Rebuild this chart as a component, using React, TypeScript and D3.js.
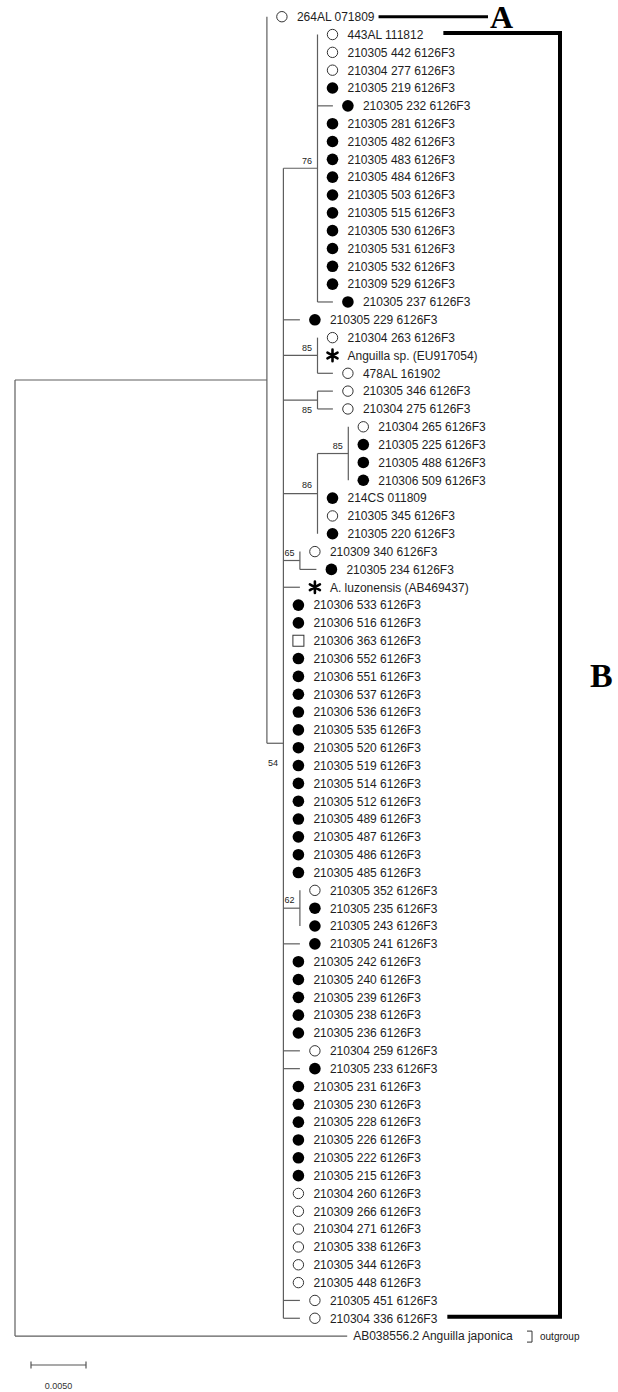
import { useEffect, useRef } from "react"
import * as d3 from "d3"

// leaf labels, top to bottom
const leafLabels = [
  "264AL 071809",
  "443AL 111812", "210305 442 6126F3", "210304 277 6126F3", "210305 219 6126F3",
  "210305 232 6126F3", "210305 281 6126F3", "210305 482 6126F3", "210305 483 6126F3",
  "210305 484 6126F3", "210305 503 6126F3", "210305 515 6126F3", "210305 530 6126F3",
  "210305 531 6126F3", "210305 532 6126F3", "210309 529 6126F3", "210305 237 6126F3",
  "210305 229 6126F3",
  "210304 263 6126F3", "Anguilla sp. (EU917054)", "478AL 161902",
  "210305 346 6126F3", "210304 275 6126F3",
  "210304 265 6126F3", "210305 225 6126F3", "210305 488 6126F3", "210306 509 6126F3",
  "214CS 011809", "210305 345 6126F3", "210305 220 6126F3",
  "210309 340 6126F3", "210305 234 6126F3",
  "A. luzonensis (AB469437)",
  "210306 533 6126F3", "210306 516 6126F3", "210306 363 6126F3", "210306 552 6126F3",
  "210306 551 6126F3", "210306 537 6126F3", "210306 536 6126F3", "210305 535 6126F3",
  "210305 520 6126F3", "210305 519 6126F3", "210305 514 6126F3", "210305 512 6126F3",
  "210305 489 6126F3", "210305 487 6126F3", "210305 486 6126F3", "210305 485 6126F3",
  "210305 352 6126F3", "210305 235 6126F3", "210305 243 6126F3",
  "210305 241 6126F3",
  "210305 242 6126F3", "210305 240 6126F3", "210305 239 6126F3", "210305 238 6126F3",
  "210305 236 6126F3",
  "210304 259 6126F3", "210305 233 6126F3",
  "210305 231 6126F3", "210305 230 6126F3", "210305 228 6126F3", "210305 226 6126F3",
  "210305 222 6126F3", "210305 215 6126F3",
  "210304 260 6126F3", "210309 266 6126F3", "210304 271 6126F3", "210305 338 6126F3",
  "210305 344 6126F3", "210305 448 6126F3", "210305 451 6126F3", "210304 336 6126F3",
  "AB038556.2 Anguilla japonica",
]

// o = open circle, f = filled circle, s = open square, a = asterisk, n = none
const leafMarkers = (
  "oooo" + "ff" + "ffffffffff" + "f" + "f" +
  "oao" + "oo" + "offf" + "fof" + "of" + "a" +
  "ffs" + "fffffffffffff" + "off" + "f" + "fffff" + "of" +
  "ffffff" + "oooooooo" + "n"
).split("")

// topology (leaf = index into leafLabels, internal label = bootstrap)
const clade76 = "(1:0,2:0,3:0,4:0,5:0.0014,6:0,7:0,8:0,9:0,10:0,11:0,12:0,13:0,14:0,15:0,16:0.0014)76:0.0031"
const clade85a = "(18:0,19:0,20:0.0014)85:0.0031"
const clade85b = "(21:0.0014,22:0.0014)85:0.0031"
const clade86 = "((23:0,24:0,25:0,26:0)85:0.0028,27:0,28:0,29:0)86:0.0031"
const clade65 = "(30:0,31:0.0015)65:0.0015"
const clade62 = "(49:0,50:0,51:0)62:0.0015"
const cladeB =
  `(${clade76},17:0.0015,${clade85a},${clade85b},${clade86},${clade65},32:0.0015,` +
  "33:0,34:0,35:0,36:0,37:0,38:0,39:0,40:0,41:0,42:0,43:0,44:0,45:0,46:0,47:0,48:0," +
  `${clade62},52:0.0015,53:0,54:0,55:0,56:0,57:0,58:0.0015,59:0.0015,` +
  "60:0,61:0,62:0,63:0,64:0,65:0,66:0,67:0,68:0,69:0,70:0,71:0,72:0.0015,73:0.0015)54:0.0015"
const treeNewick = `((0:0,${cladeB}):0.0229,74:0.0302);`

const scaleBarValue = 0.005

interface TreeNode {
  name: string
  length: number
  children: TreeNode[]
}

function parseNewick(src: string): TreeNode {
  const s = src.replace(/\s/g, "")
  let i = 0
  const readToken = () => {
    const start = i
    while (i < s.length && !",():;".includes(s[i])) i++
    return s.slice(start, i)
  }
  const readNode = (): TreeNode => {
    const n: TreeNode = { name: "", length: 0, children: [] }
    if (s[i] === "(") {
      i++
      n.children.push(readNode())
      while (s[i] === ",") {
        i++
        n.children.push(readNode())
      }
      i++
    }
    n.name = readToken()
    if (s[i] === ":") {
      i++
      n.length = parseFloat(readToken())
    }
    return n
  }
  return readNode()
}

const W = 618
const H = 1392

export default function App() {
  const svgRef = useRef<SVGSVGElement>(null)

  useEffect(() => {
    if (!svgRef.current) return
    const svg = d3.select(svgRef.current)
    svg.selectAll("*").remove()

    const root = d3.hierarchy<TreeNode>(parseNewick(treeNewick), (d) => d.children)

    const x = d3.scaleLinear().domain([0, scaleBarValue]).range([15, 70])
    const y = d3.scaleLinear().domain([0, leafLabels.length - 1]).range([16.7, 1336.1])

    const pos = new Map<d3.HierarchyNode<TreeNode>, { x: number; y: number }>()
    root.eachBefore((n) => {
      const px = n.parent ? pos.get(n.parent)!.x : x(0)
      pos.set(n, { x: px + (x(n.data.length) - x(0)), y: 0 })
    })
    root.eachAfter((n) => {
      const p = pos.get(n)!
      if (!n.children) p.y = y(+n.data.name)
      else p.y = (pos.get(n.children[0])!.y + pos.get(n.children[n.children.length - 1])!.y) / 2
    })

    const lineColor = "#5e5e5e"
    const g = svg.append("g")

    // branches
    root.each((n) => {
      if (!n.children) return
      const p = pos.get(n)!
      const first = pos.get(n.children[0])!
      const last = pos.get(n.children[n.children.length - 1])!
      g.append("line")
        .attr("x1", p.x).attr("x2", p.x)
        .attr("y1", first.y).attr("y2", last.y)
        .attr("stroke", lineColor).attr("stroke-width", 1.2)
      n.children.forEach((c) => {
        const cp = pos.get(c)!
        if (cp.x - p.x < 0.5) return
        g.append("line")
          .attr("x1", p.x).attr("x2", cp.x)
          .attr("y1", cp.y).attr("y2", cp.y)
          .attr("stroke", lineColor).attr("stroke-width", 1.2)
      })
    })

    // bootstrap values
    const bootDy = [23, -4.5, -4.5, 13, -5.5, -4.5, -4.5, -5]
    let bi = 0
    root.eachBefore((n) => {
      if (!n.children || !n.data.name) return
      const p = pos.get(n)!
      g.append("text")
        .attr("x", p.x - 5.5)
        .attr("y", p.y + bootDy[bi++])
        .attr("text-anchor", "end")
        .attr("font-family", "'Liberation Sans', Arial, sans-serif")
        .attr("font-size", 9)
        .attr("fill", "#222")
        .text(n.data.name)
    })

    // leaves
    const textEnd: number[] = []
    root.leaves().forEach((leaf) => {
      const idx = +leaf.data.name
      const p = pos.get(leaf)!
      const m = leafMarkers[idx]
      const mx = p.x + 15
      if (m === "o") {
        g.append("circle").attr("cx", mx).attr("cy", p.y).attr("r", 5.2)
          .attr("fill", "#fff").attr("stroke", "#333").attr("stroke-width", 1)
      } else if (m === "f") {
        g.append("circle").attr("cx", mx).attr("cy", p.y).attr("r", 5.8).attr("fill", "#000")
      } else if (m === "s") {
        g.append("rect").attr("x", mx - 5.5).attr("y", p.y - 5.5).attr("width", 11).attr("height", 11)
          .attr("fill", "#fff").attr("stroke", "#333").attr("stroke-width", 1)
      } else if (m === "a") {
        const r = 5.8
        const path = d3.path()
        for (let k = 0; k < 3; k++) {
          const ang = (Math.PI / 3) * k + Math.PI / 2
          path.moveTo(mx + r * Math.cos(ang), p.y + r * Math.sin(ang))
          path.lineTo(mx - r * Math.cos(ang), p.y - r * Math.sin(ang))
        }
        g.append("path").attr("d", path.toString()).attr("stroke", "#000")
          .attr("stroke-width", 2.6).attr("stroke-linecap", "round").attr("fill", "none")
      }
      const tx = m === "n" ? p.x + 6 : mx + 15
      const t = g.append("text")
        .attr("x", tx)
        .attr("y", p.y)
        .attr("dy", "0.36em")
        .attr("font-family", "'Liberation Sans', Arial, sans-serif")
        .attr("font-size", 12)
        .attr("fill", "#1e1e1e")
        .text(leafLabels[idx])
      textEnd[idx] = tx + ((t.node() as SVGTextElement).getComputedTextLength() || 0)
    })

    // group A
    const yA = y(0)
    g.append("line").attr("x1", textEnd[0] + 4).attr("x2", 488).attr("y1", yA).attr("y2", yA)
      .attr("stroke", "#000").attr("stroke-width", 3)
    g.append("text").attr("x", 490).attr("y", yA + 11.5)
      .attr("font-family", "'Liberation Serif', 'Times New Roman', serif")
      .attr("font-weight", "bold").attr("font-size", 32).attr("fill", "#000").text("A")

    // group B
    const yB1 = y(1) - 1.5
    const yB2 = y(73) - 1.5
    g.append("path")
      .attr("d", `M${textEnd[1] + 20},${yB1}H560V${yB2}H${textEnd[73] + 10}`)
      .attr("fill", "none").attr("stroke", "#000").attr("stroke-width", 4)
    g.append("text").attr("x", 590).attr("y", (yB1 + yB2) / 2 + 12)
      .attr("font-family", "'Liberation Serif', 'Times New Roman', serif")
      .attr("font-weight", "bold").attr("font-size", 34).attr("fill", "#000").text("B")

    // outgroup bracket
    const yO = y(74)
    g.append("path").attr("d", `M527,${yO - 5}H532V${yO + 6}H527`)
      .attr("fill", "none").attr("stroke", "#333").attr("stroke-width", 1)
    g.append("text").attr("x", 540).attr("y", yO + 3.5)
      .attr("font-family", "'Liberation Sans', Arial, sans-serif")
      .attr("font-size", 10).attr("fill", "#222").text("outgroup")

    // scale bar
    const sbX = 31
    const sbY = 1365
    const sbLen = x(scaleBarValue) - x(0)
    const sb = g.append("g").attr("stroke", "#555").attr("stroke-width", 1.2)
    sb.append("line").attr("x1", sbX).attr("x2", sbX + sbLen).attr("y1", sbY).attr("y2", sbY)
    sb.append("line").attr("x1", sbX).attr("x2", sbX).attr("y1", sbY - 3.5).attr("y2", sbY + 3.5)
    sb.append("line").attr("x1", sbX + sbLen).attr("x2", sbX + sbLen).attr("y1", sbY - 3.5).attr("y2", sbY + 3.5)
    g.append("text").attr("x", sbX + sbLen / 2).attr("y", sbY + 24)
      .attr("text-anchor", "middle")
      .attr("font-family", "'Liberation Sans', Arial, sans-serif")
      .attr("font-size", 9).attr("fill", "#333").text("0.0050")
  }, [])

  return (
    <svg
      ref={svgRef}
      width={W}
      height={H}
      style={{ position: "absolute", left: 0, top: 0, background: "#fff" }}
    />
  )
}
